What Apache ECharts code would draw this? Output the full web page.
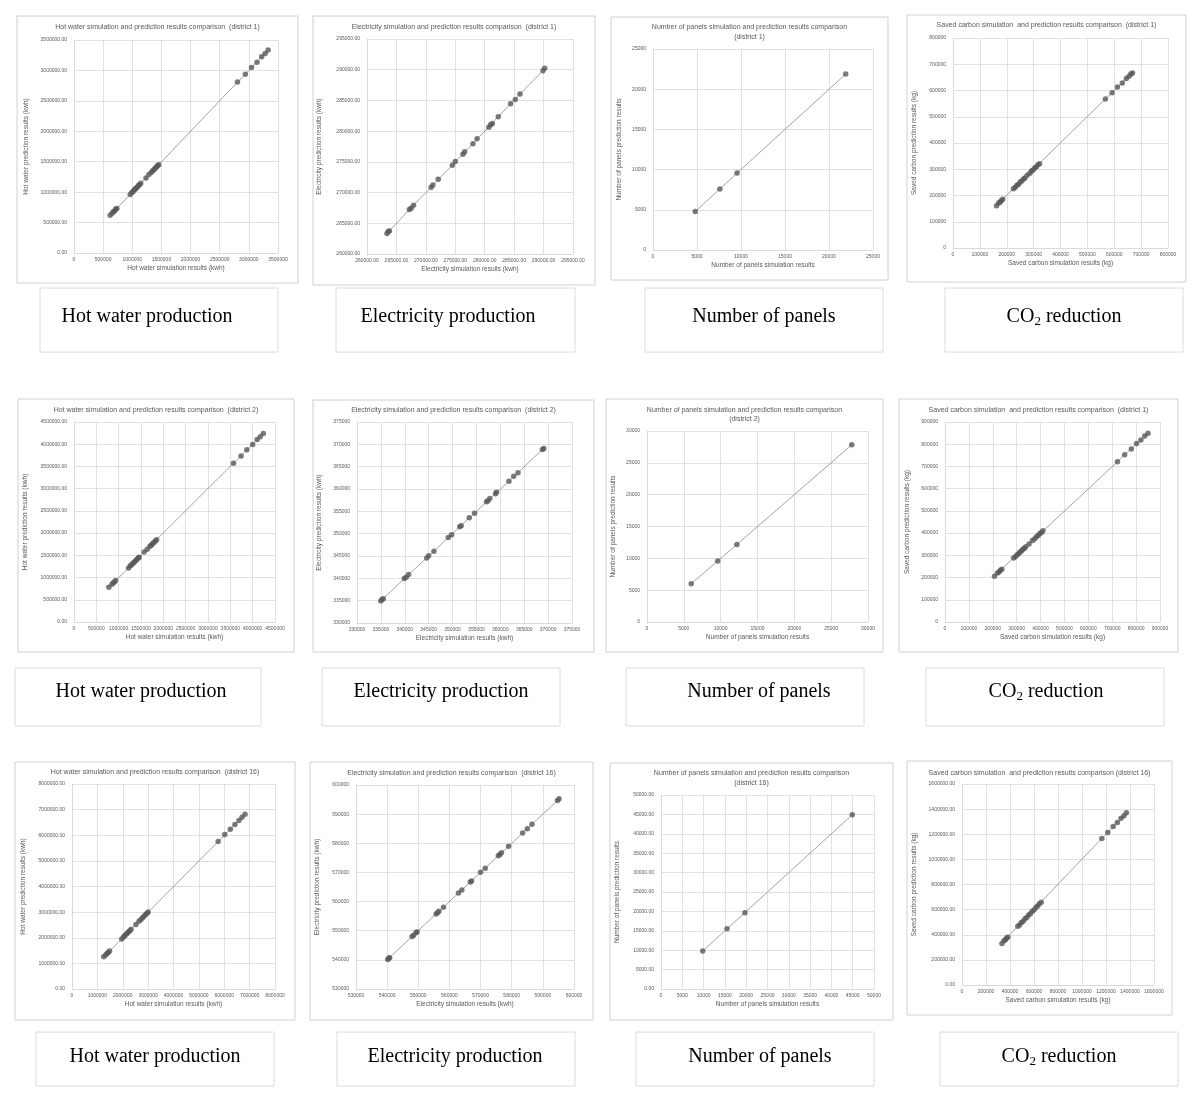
<!DOCTYPE html>
<html>
<head>
<meta charset="utf-8">
<script src="https://cdn.jsdelivr.net/npm/echarts@6/dist/echarts.min.js"></script>
<style>
  html, body { margin: 0; padding: 0; background: #fff; }
  #main { width: 1200px; height: 1102px; }
</style>
</head>
<body>
<div id="main"></div>
<script>
// ---- data (simulation vs prediction) ----
var hwD1Sim  = [620000, 655000, 675000, 695000, 715000, 735000, 965000, 990000, 1010000, 1030000, 1050000, 1065000, 1085000, 1105000, 1125000, 1145000, 1235000, 1285000, 1325000, 1350000, 1375000, 1395000, 1415000, 1435000, 1455000, 2805000, 2940000, 3045000, 3140000, 3220000, 3280000, 3330000];
var hwD1Pred = [622000, 653000, 678000, 692000, 718000, 733000, 962000, 993000, 1008000, 1034000, 1047000, 1068000, 1082000, 1109000, 1122000, 1148000, 1232000, 1288000, 1321000, 1353000, 1372000, 1398000, 1412000, 1438000, 1452000, 2808000, 2937000, 3049000, 3136000, 3224000, 3277000, 3334000];
var hwD1Range = [0, 3500000, 500000];

var elD1Sim  = [263400, 263600, 263800, 267200, 267500, 267900, 270900, 271200, 272100, 274500, 275000, 276300, 276600, 278000, 278700, 280700, 281000, 281300, 282300, 284400, 285200, 286000, 289900, 290200];
var elD1Pred = [263350, 263650, 263750, 267250, 267450, 267950, 270850, 271250, 272150, 274450, 275050, 276250, 276650, 277950, 278750, 280650, 281050, 281250, 282350, 284450, 285150, 286050, 289850, 290250];
var elD1Range = [260000, 295000, 5000];

var pnD1Sim  = [4800, 7600, 9550, 21900];
var pnD1Pred = [4780, 7580, 9570, 21880];
var pnD1Range = [0, 25000, 5000];

var scD1Sim  = [162000, 170000, 175000, 180000, 185000, 225000, 232000, 238000, 244000, 250000, 256000, 262000, 268000, 276000, 286000, 292000, 298000, 304000, 310000, 316000, 322000, 567000, 592000, 612000, 630000, 645000, 655000, 662000, 668000];
var scD1Pred = [161000, 171000, 174000, 181000, 186000, 226000, 231000, 239000, 243000, 251000, 255000, 263000, 267000, 277000, 285000, 293000, 297000, 305000, 309000, 317000, 321000, 568000, 591000, 613000, 629000, 646000, 654000, 663000, 667000];
var scD1Range = [0, 800000, 100000];

var hwD2Sim  = [780000, 850000, 880000, 905000, 930000, 1220000, 1260000, 1290000, 1320000, 1350000, 1380000, 1410000, 1440000, 1460000, 1570000, 1640000, 1700000, 1730000, 1760000, 1790000, 1820000, 1850000, 3570000, 3740000, 3870000, 4000000, 4100000, 4170000, 4240000];
var hwD2Pred = [783000, 848000, 884000, 902000, 933000, 1217000, 1263000, 1287000, 1324000, 1347000, 1383000, 1407000, 1443000, 1458000, 1574000, 1637000, 1703000, 1727000, 1764000, 1787000, 1823000, 1848000, 3574000, 3737000, 3873000, 3996000, 4104000, 4167000, 4243000];
var hwD2Range = [0, 4500000, 500000];

var elD2Sim  = [335000, 335200, 335500, 339900, 340300, 340800, 344600, 345000, 346100, 349100, 349800, 351500, 351800, 353500, 354600, 357100, 357400, 357800, 359000, 359200, 361800, 362800, 363700, 368800, 369100];
var elD2Pred = [334950, 335250, 335450, 339950, 340250, 340850, 344550, 345050, 346050, 349150, 349750, 351550, 351750, 353550, 354550, 357150, 357350, 357850, 358950, 359250, 361750, 362850, 363650, 368850, 369050];
var elD2Range = [330000, 375000, 5000];

var pnD2Sim  = [6000, 9600, 12200, 27800];
var pnD2Pred = [6020, 9580, 12180, 27830];
var pnD2Range = [0, 30000, 5000];

var scD2Sim  = [207000, 220000, 226000, 232000, 238000, 287000, 295000, 302000, 308000, 314000, 320000, 326000, 332000, 338000, 352000, 366000, 376000, 383000, 390000, 397000, 404000, 410000, 722000, 752000, 780000, 802000, 820000, 836000, 850000];
var scD2Pred = [206000, 221000, 225000, 233000, 237000, 288000, 294000, 303000, 307000, 315000, 319000, 327000, 331000, 339000, 351000, 367000, 375000, 384000, 389000, 398000, 403000, 411000, 721000, 753000, 779000, 803000, 819000, 837000, 849000];
var scD2Range = [0, 900000, 100000];

var hwD16Sim  = [1250000, 1330000, 1380000, 1430000, 1480000, 1960000, 2030000, 2080000, 2130000, 2180000, 2230000, 2280000, 2330000, 2520000, 2640000, 2720000, 2780000, 2840000, 2900000, 2960000, 3000000, 5760000, 6020000, 6240000, 6420000, 6580000, 6700000, 6820000];
var hwD16Pred = [1255000, 1326000, 1384000, 1426000, 1484000, 1955000, 2034000, 2076000, 2134000, 2176000, 2235000, 2276000, 2334000, 2516000, 2645000, 2716000, 2784000, 2836000, 2905000, 2956000, 3004000, 5756000, 6025000, 6236000, 6424000, 6576000, 6705000, 6816000];
var hwD16Range = [0, 8000000, 1000000];

var elD16Sim  = [540200, 540500, 540800, 548000, 548500, 549300, 549600, 555700, 556200, 556600, 558100, 562900, 564000, 566700, 567100, 570000, 571500, 575700, 576200, 576700, 579000, 583500, 585000, 586500, 594700, 595200];
var elD16Pred = [540150, 540550, 540750, 548050, 548450, 549350, 549550, 555750, 556150, 556650, 558050, 562950, 563950, 566750, 567050, 570050, 571450, 575750, 576150, 576750, 578950, 583550, 584950, 586550, 594650, 595250];
var elD16Range = [530000, 600000, 10000];

var pnD16Sim  = [9800, 15500, 19700, 44900];
var pnD16Pred = [9780, 15520, 19680, 44920];
var pnD16Range = [0, 50000, 5000];

var scD16Sim  = [333000, 350000, 362000, 372000, 382000, 465000, 480000, 495000, 510000, 525000, 540000, 555000, 570000, 585000, 600000, 615000, 630000, 645000, 660000, 1165000, 1215000, 1260000, 1295000, 1325000, 1350000, 1370000];
var scD16Pred = [331000, 352000, 360000, 374000, 380000, 467000, 478000, 497000, 508000, 527000, 538000, 557000, 568000, 587000, 598000, 617000, 628000, 647000, 658000, 1167000, 1213000, 1262000, 1293000, 1327000, 1348000, 1372000];
var scD16Range = [0, 1600000, 200000];

var captions = ['Hot water production', 'Electricity production', 'Number of panels', 'CO2 reduction'];

// axis names per quantity
var names = {
  hw: ['Hot water simulation results (kwh)', 'Hot water prediction results (kwh)'],
  el: ['Electricity simulation results (kwh)', 'Electricity prediction results (kwh)'],
  pn: ['Number of panels simulation results', 'Number of panels prediction results'],
  sc: ['Saved carbon simulation results (kg)', 'Saved carbon prediction results (kg)']
};

// layout: box [x,y,w,h], plot [left,top,width,height]
var panels = [
  {q:'hw', sim:hwD1Sim, pred:hwD1Pred, range:hwD1Range, xDec:false, yDec:true,
   title:['Hot water simulation and prediction results comparison  (district 1)'], titleY:[27],
   box:[17,16,281,267], plot:[74,40,204,213], yGap:44},
  {q:'el', sim:elD1Sim, pred:elD1Pred, range:elD1Range, xDec:true, yDec:true,
   title:['Electricity simulation and prediction results comparison  (district 1)'], titleY:[27],
   box:[313,16,282,269], plot:[367,39,206,215], yGap:44},
  {q:'pn', sim:pnD1Sim, pred:pnD1Pred, range:pnD1Range, xDec:false, yDec:false,
   title:['Number of panels simulation and prediction results comparison', '(district 1)'], titleY:[27,37],
   box:[611,17,277,263], plot:[653,49,220,201], yGap:30},
  {q:'sc', sim:scD1Sim, pred:scD1Pred, range:scD1Range, xDec:false, yDec:false,
   title:['Saved carbon simulation  and prediction results comparison  (district 1)'], titleY:[25],
   box:[907,15,279,267], plot:[953,38,215,210], yGap:35},

  {q:'hw', sim:hwD2Sim, pred:hwD2Pred, range:hwD2Range, xDec:false, yDec:true,
   title:['Hot water simulation and prediction results comparison  (district 2)'], titleY:[410],
   box:[18,399,276,253], plot:[74,422,201,200], yGap:45},
  {q:'el', sim:elD2Sim, pred:elD2Pred, range:elD2Range, xDec:false, yDec:false,
   title:['Electricity simulation and prediction results comparison  (district 2)'], titleY:[410],
   box:[313,400,281,252], plot:[357,422,215,201], yGap:34},
  {q:'pn', sim:pnD2Sim, pred:pnD2Pred, range:pnD2Range, xDec:false, yDec:false,
   title:['Number of panels simulation and prediction results comparison', '(district 2)'], titleY:[410,419],
   box:[606,399,277,253], plot:[647,431,221,191], yGap:30},
  {q:'sc', sim:scD2Sim, pred:scD2Pred, range:scD2Range, xDec:false, yDec:false,
   title:['Saved carbon simulation  and prediction results comparison  (district 1)'], titleY:[410],
   box:[899,399,279,253], plot:[945,422,215,200], yGap:34},

  {q:'hw', sim:hwD16Sim, pred:hwD16Pred, range:hwD16Range, xDec:false, yDec:true,
   title:['Hot water simulation and prediction results comparison  (district 16)'], titleY:[772],
   box:[15,762,280,258], plot:[72,784,203,205], yGap:45},
  {q:'el', sim:elD16Sim, pred:elD16Pred, range:elD16Range, xDec:false, yDec:false,
   title:['Electricity simulation and prediction results comparison  (district 16)'], titleY:[773],
   box:[310,762,283,258], plot:[356,785,218,204], yGap:35},
  {q:'pn', sim:pnD16Sim, pred:pnD16Pred, range:pnD16Range, xDec:false, yDec:true,
   title:['Number of panels simulation and prediction results comparison', '(district 16)'], titleY:[773,783],
   box:[610,763,283,257], plot:[661,795,213,194], yGap:40},
  {q:'sc', sim:scD16Sim, pred:scD16Pred, range:scD16Range, xDec:false, yDec:true,
   title:['Saved carbon simulation  and prediction results comparison (district 16)'], titleY:[773],
   box:[907,761,265,254], plot:[962,784,192,201], yGap:44}
];

// caption boxes [x,y,w,h] and text centre x per row
var captionRows = [
  {y:288, h:64, ty:316, boxes:[[40,238],[336,239],[645,238],[945,238]], tx:[147,448,764,1064]},
  {y:668, h:58, ty:691, boxes:[[15,246],[322,238],[626,238],[926,238]], tx:[141,441,759,1046]},
  {y:1032, h:54, ty:1056, boxes:[[36,238],[337,238],[636,238],[940,238]], tx:[155,455,760,1059]}
];

var GREY = '#595959', GRID = '#d9d9d9', SANS = '"Liberation Sans", Arial, sans-serif';

function fmt(dec) {
  return function (v) { return dec ? v.toFixed(2) : String(v); };
}

var grids = [], xAxes = [], yAxes = [], series = [], graphics = [];

panels.forEach(function (p, i) {
  grids.push({left:p.plot[0], top:p.plot[1], width:p.plot[2], height:p.plot[3], containLabel:false});
  var base = {
    gridIndex:i, type:'value', min:p.range[0], max:p.range[1], interval:p.range[2],
    nameLocation:'middle',
    nameTextStyle:{fontSize:6.5, color:GREY, fontFamily:SANS},
    axisLine:{show:true, onZero:false, lineStyle:{color:GRID, width:0.8}},
    axisTick:{show:false},
    splitLine:{show:true, lineStyle:{color:GRID, width:0.8}}
  };
  xAxes.push(Object.assign({}, base, {
    name:names[p.q][0], nameGap:12,
    axisLabel:{fontSize:5, color:GREY, fontFamily:SANS, margin:4, formatter:fmt(p.xDec)}
  }));
  yAxes.push(Object.assign({}, base, {
    name:names[p.q][1], nameGap:p.yGap,
    axisLabel:{fontSize:5, color:GREY, fontFamily:SANS, margin:7, formatter:fmt(p.yDec)}
  }));
  var pts = p.sim.map(function (s, k) { return [s, p.pred[k]]; });
  series.push({type:'line', xAxisIndex:i, yAxisIndex:i, data:pts, symbol:'none', silent:true,
    lineStyle:{color:'#8c8c8c', width:0.8}, z:2});
  series.push({type:'scatter', xAxisIndex:i, yAxisIndex:i, data:pts, symbolSize:5.5,
    itemStyle:{color:GREY}, z:3});

  graphics.push({type:'rect', shape:{x:p.box[0], y:p.box[1], width:p.box[2], height:p.box[3]},
    style:{fill:'none', stroke:'#d0d0d0', lineWidth:1}, silent:true});
  p.title.forEach(function (t, k) {
    graphics.push({type:'text', x:p.box[0] + p.box[2] / 2, y:p.titleY[k],
      style:{text:t, align:'center', verticalAlign:'middle', fontSize:7, fontFamily:SANS, fill:GREY}, silent:true});
  });
});

captionRows.forEach(function (row) {
  row.boxes.forEach(function (b, k) {
    graphics.push({type:'rect', shape:{x:b[0], y:row.y, width:b[1], height:row.h},
      style:{fill:'none', stroke:'#dcdcdc', lineWidth:1}, silent:true});
    var txt = captions[k];
    var style = {align:'center', verticalAlign:'middle', fill:'#000',
      fontSize:20, fontFamily:'"Liberation Serif", "Times New Roman", serif'};
    if (txt.indexOf('CO2') === 0) {
      style.text = '{n|CO}{s|2}{n|' + txt.slice(3) + '}';
      style.rich = {
        n:{fontSize:20, fontFamily:'"Liberation Serif", serif', fill:'#000', lineHeight:24},
        s:{fontSize:13, fontFamily:'"Liberation Serif", serif', fill:'#000', lineHeight:24, padding:[9,0,0,0]}
      };
    } else {
      style.text = txt;
    }
    graphics.push({type:'text', x:row.tx[k], y:row.ty + 1, style:style, silent:true});
  });
});

var myChart = echarts.init(document.getElementById('main'));
myChart.setOption({
  backgroundColor:'#fff',
  animation:false,
  grid:grids,
  xAxis:xAxes,
  yAxis:yAxes,
  series:series,
  graphic:graphics
});
</script>
</body>
</html>
